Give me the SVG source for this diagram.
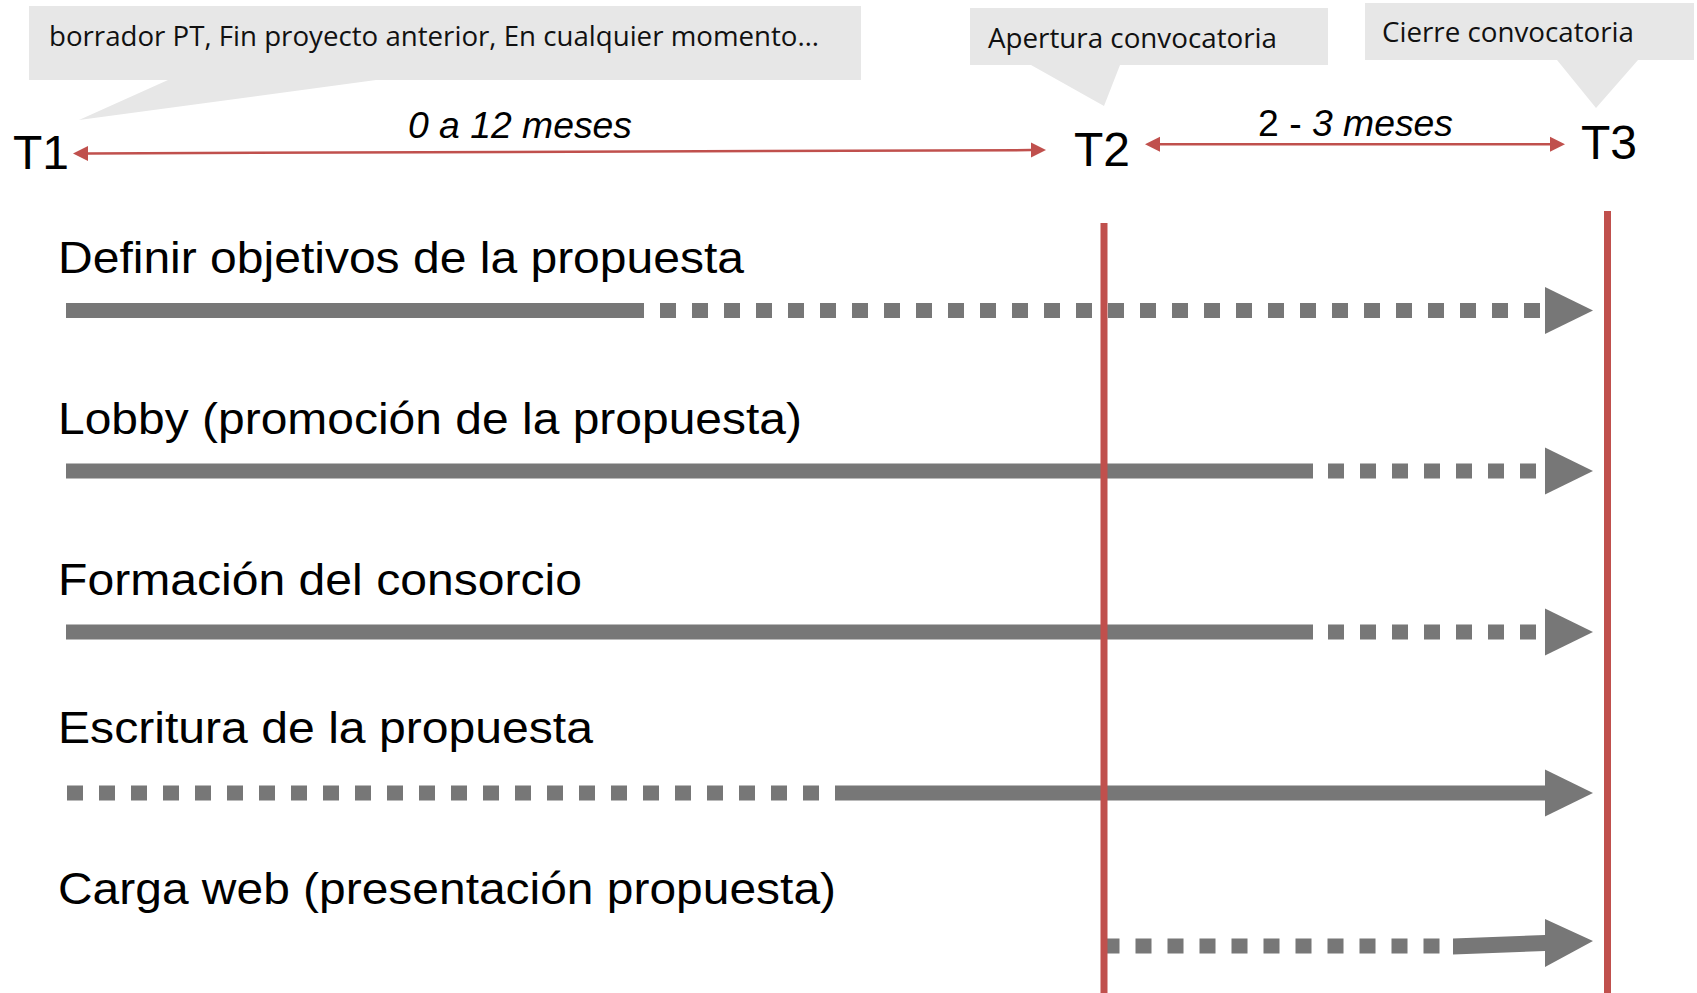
<svg xmlns="http://www.w3.org/2000/svg" xmlns:xlink="http://www.w3.org/1999/xlink" width="1697" height="993" viewBox="0 0 1697 993">
  <style>
    .callout { fill: #e7e7e7; stroke: none; }
    .ctext { font-family: "Open Sans", "Noto Sans", sans-serif; font-size: 28px; fill: #111111; }
    .tlabel { font-family: "Liberation Sans", Arial, sans-serif; font-size: 48px; fill: #000000; }
    .dur { font-family: "Liberation Sans", Arial, sans-serif; font-size: 36px; fill: #000000; }
    .it { font-style: italic; }
    .row { font-family: "Liberation Sans", Arial, sans-serif; font-size: 44px; fill: #000000; }
    .solid { stroke: #777777; stroke-width: 15; fill: none; }
    .dash { stroke: #777777; stroke-width: 15; stroke-dasharray: 16 16; fill: none; }
    .head { fill: #777777; }
    .redarrow { stroke: #c0504d; stroke-width: 2.5; fill: none; marker-start: url(#rh); marker-end: url(#rh); }
    .vline { stroke: #c0504d; stroke-width: 7; }
  </style>
  <defs>
    <marker id="rh" markerUnits="userSpaceOnUse" markerWidth="16" markerHeight="16" refX="0" refY="8" orient="auto-start-reverse" viewBox="0 0 16 16">
      <path d="M0,0.5 L15,8 L0,15.5 Z" fill="#c0504d"/>
    </marker>
    <path id="gh" d="M0,-23.5 L48,0 L0,23.5 Z"/>
  </defs>
  <rect width="1697" height="993" fill="#ffffff"/>

  <g id="callout-t1">
    <path class="callout" d="M29,6 H861 V80 H376 L79,120 L168,80 H29 Z"/>
    <text class="ctext" x="49" y="46" textLength="770" lengthAdjust="spacingAndGlyphs">borrador PT, Fin proyecto anterior, En cualquier momento…</text>
  </g>
  <g id="callout-t2">
    <path class="callout" d="M970,8 H1328 V65 H1120 L1104,106 L1031,65 H970 Z"/>
    <text class="ctext" x="988" y="48" textLength="289" lengthAdjust="spacingAndGlyphs">Apertura convocatoria</text>
  </g>
  <g id="callout-t3">
    <path class="callout" d="M1365,3 H1694 V60 H1638 L1596,108 L1557,60 H1365 Z"/>
    <text class="ctext" x="1382" y="42" textLength="252" lengthAdjust="spacingAndGlyphs">Cierre convocatoria</text>
  </g>

  <g id="t1"><text class="tlabel" x="13" y="169">T1</text></g>
  <g id="t2"><text class="tlabel" x="1074" y="165.5">T2</text></g>
  <g id="t3"><text class="tlabel" x="1581" y="159">T3</text></g>

  <g id="row-definir">
    <text class="row" x="58" y="273" textLength="686" lengthAdjust="spacingAndGlyphs">Definir objetivos de la propuesta</text>
    <line class="solid" x1="66" y1="310.5" x2="644" y2="310.5"/>
    <line class="dash" x1="660" y1="310.5" x2="1540" y2="310.5"/>
    <use xlink:href="#gh" class="head" x="1545" y="310.5"/>
  </g>
  <g id="row-lobby">
    <text class="row" x="58" y="433.5" textLength="744" lengthAdjust="spacingAndGlyphs">Lobby (promoción de la propuesta)</text>
    <line class="solid" x1="66" y1="471" x2="1313" y2="471"/>
    <line class="dash" x1="1328" y1="471" x2="1536" y2="471"/>
    <use xlink:href="#gh" class="head" x="1545" y="471"/>
  </g>
  <g id="row-consorcio">
    <text class="row" x="58" y="594.5" textLength="524" lengthAdjust="spacingAndGlyphs">Formación del consorcio</text>
    <line class="solid" x1="66" y1="632" x2="1313" y2="632"/>
    <line class="dash" x1="1328" y1="632" x2="1536" y2="632"/>
    <use xlink:href="#gh" class="head" x="1545" y="632"/>
  </g>
  <g id="row-escritura">
    <text class="row" x="58" y="742.5" textLength="535" lengthAdjust="spacingAndGlyphs">Escritura de la propuesta</text>
    <line class="dash" x1="67" y1="793" x2="819" y2="793"/>
    <line class="solid" x1="835" y1="793" x2="1546" y2="793"/>
    <use xlink:href="#gh" class="head" x="1545" y="793"/>
  </g>
  <g id="row-carga">
    <text class="row" x="58" y="904" textLength="778" lengthAdjust="spacingAndGlyphs">Carga web (presentación propuesta)</text>
    <line class="dash" x1="1103.5" y1="946" x2="1439.5" y2="946"/>
    <path class="head" d="M1453,938.5 L1545,935 L1545,919 L1593,941 L1545,967 L1545,951 L1453,954.5 Z"/>
  </g>

  <g id="connectors">
    <line class="redarrow" x1="88" y1="153.4" x2="1031" y2="150.1"/>
    <line class="redarrow" x1="1160" y1="144.3" x2="1550" y2="144.3"/>
    <line class="vline" x1="1104" y1="223" x2="1104" y2="993"/>
    <line class="vline" x1="1607.5" y1="211" x2="1607.5" y2="993"/>
  </g>

  <g id="durations">
    <text class="dur it" x="408" y="138" textLength="224" lengthAdjust="spacingAndGlyphs">0 a 12 meses</text>
    <text class="dur" x="1258" y="136" textLength="195" lengthAdjust="spacingAndGlyphs">2 - <tspan class="it">3 meses</tspan></text>
  </g>
</svg>
